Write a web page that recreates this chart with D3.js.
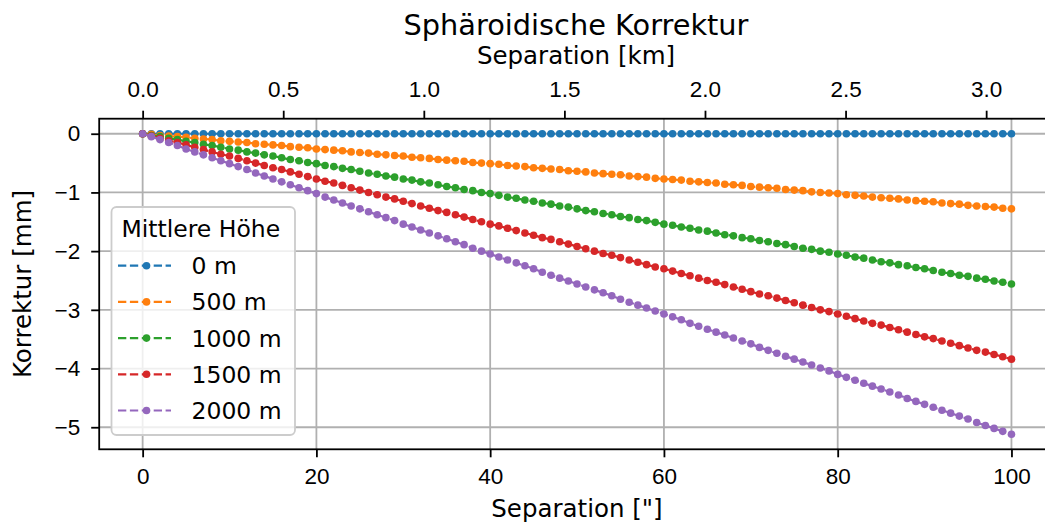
<!DOCTYPE html>
<html lang="de">
<head>
<meta charset="UTF-8">
<title>Sphäroidische Korrektur</title>
<script src="https://d3js.org/d3.v7.min.js"></script>
<style>
    body { margin: 0; background: white; }
    svg { font-family: "DejaVu Sans", sans-serif; display: block; }
    .tick text { font-size: 22.5px; fill: #000; }
</style>
</head>
<body>
<svg id="chart" width="1045" height="524"></svg>
<script>
// separation in arc seconds
const separation = [
    0, 1, 2, 3, 4, 5, 6, 7, 8, 9, 10, 11, 12, 13, 14, 15, 16, 17, 18, 19, 20,
    21, 22, 23, 24, 25, 26, 27, 28, 29, 30, 31, 32, 33, 34, 35, 36, 37, 38, 39, 40,
    41, 42, 43, 44, 45, 46, 47, 48, 49, 50, 51, 52, 53, 54, 55, 56, 57, 58, 59, 60,
    61, 62, 63, 64, 65, 66, 67, 68, 69, 70, 71, 72, 73, 74, 75, 76, 77, 78, 79, 80,
    81, 82, 83, 84, 85, 86, 87, 88, 89, 90, 91, 92, 93, 94, 95, 96, 97, 98, 99, 100
];

// Korrektur in mm for each mean height
const h0 = [
    0, 0, 0, 0, 0, 0, 0, 0, 0, 0, 0, 0, 0, 0, 0, 0, 0, 0, 0, 0, 0,
    0, 0, 0, 0, 0, 0, 0, 0, 0, 0, 0, 0, 0, 0, 0, 0, 0, 0, 0, 0,
    0, 0, 0, 0, 0, 0, 0, 0, 0, 0, 0, 0, 0, 0, 0, 0, 0, 0, 0, 0,
    0, 0, 0, 0, 0, 0, 0, 0, 0, 0, 0, 0, 0, 0, 0, 0, 0, 0, 0, 0,
    0, 0, 0, 0, 0, 0, 0, 0, 0, 0, 0, 0, 0, 0, 0, 0, 0, 0, 0, 0
];
const h500 = [
    0, -0.01, -0.03, -0.04, -0.05, -0.06, -0.08, -0.09, -0.10, -0.12, -0.13,
    -0.14, -0.15, -0.17, -0.18, -0.19, -0.20, -0.22, -0.23, -0.24, -0.26,
    -0.27, -0.28, -0.29, -0.31, -0.32, -0.33, -0.35, -0.36, -0.37, -0.38,
    -0.40, -0.41, -0.42, -0.44, -0.45, -0.46, -0.47, -0.49, -0.50, -0.51,
    -0.52, -0.54, -0.55, -0.56, -0.58, -0.59, -0.60, -0.61, -0.63, -0.64,
    -0.65, -0.67, -0.68, -0.69, -0.70, -0.72, -0.73, -0.74, -0.76, -0.77,
    -0.78, -0.79, -0.81, -0.82, -0.83, -0.84, -0.86, -0.87, -0.88, -0.90,
    -0.91, -0.92, -0.93, -0.95, -0.96, -0.97, -0.99, -1.00, -1.01, -1.02,
    -1.04, -1.05, -1.06, -1.08, -1.09, -1.10, -1.11, -1.13, -1.14, -1.15,
    -1.16, -1.18, -1.19, -1.20, -1.22, -1.23, -1.24, -1.25, -1.27, -1.28
];
const h1000 = [
    0, -0.03, -0.05, -0.08, -0.10, -0.13, -0.15, -0.18, -0.20, -0.23, -0.26,
    -0.28, -0.31, -0.33, -0.36, -0.38, -0.41, -0.44, -0.46, -0.49, -0.51,
    -0.54, -0.56, -0.59, -0.61, -0.64, -0.67, -0.69, -0.72, -0.74, -0.77,
    -0.79, -0.82, -0.84, -0.87, -0.90, -0.92, -0.95, -0.97, -1.00, -1.02,
    -1.05, -1.08, -1.10, -1.13, -1.15, -1.18, -1.20, -1.23, -1.25, -1.28,
    -1.31, -1.33, -1.36, -1.38, -1.41, -1.43, -1.46, -1.48, -1.51, -1.54,
    -1.56, -1.59, -1.61, -1.64, -1.66, -1.69, -1.72, -1.74, -1.77, -1.79,
    -1.82, -1.84, -1.87, -1.89, -1.92, -1.95, -1.97, -2.00, -2.02, -2.05,
    -2.07, -2.10, -2.12, -2.15, -2.18, -2.20, -2.23, -2.25, -2.28, -2.30,
    -2.33, -2.36, -2.38, -2.41, -2.43, -2.46, -2.48, -2.51, -2.53, -2.56
];
const h1500 = [
    0, -0.04, -0.08, -0.12, -0.15, -0.19, -0.23, -0.27, -0.31, -0.35, -0.38,
    -0.42, -0.46, -0.50, -0.54, -0.58, -0.61, -0.65, -0.69, -0.73, -0.77,
    -0.81, -0.84, -0.88, -0.92, -0.96, -1.00, -1.04, -1.08, -1.11, -1.15,
    -1.19, -1.23, -1.27, -1.31, -1.34, -1.38, -1.42, -1.46, -1.50, -1.54,
    -1.57, -1.61, -1.65, -1.69, -1.73, -1.77, -1.80, -1.84, -1.88, -1.92,
    -1.96, -2.00, -2.04, -2.07, -2.11, -2.15, -2.19, -2.23, -2.27, -2.30,
    -2.34, -2.38, -2.42, -2.46, -2.50, -2.53, -2.57, -2.61, -2.65, -2.69,
    -2.73, -2.76, -2.80, -2.84, -2.88, -2.92, -2.96, -3.00, -3.03, -3.07,
    -3.11, -3.15, -3.19, -3.23, -3.26, -3.30, -3.34, -3.38, -3.42, -3.46,
    -3.49, -3.53, -3.57, -3.61, -3.65, -3.69, -3.72, -3.76, -3.80, -3.84
];
const h2000 = [
    0, -0.05, -0.10, -0.15, -0.20, -0.26, -0.31, -0.36, -0.41, -0.46, -0.51,
    -0.56, -0.61, -0.67, -0.72, -0.77, -0.82, -0.87, -0.92, -0.97, -1.02,
    -1.08, -1.13, -1.18, -1.23, -1.28, -1.33, -1.38, -1.43, -1.48, -1.54,
    -1.59, -1.64, -1.69, -1.74, -1.79, -1.84, -1.89, -1.95, -2.00, -2.05,
    -2.10, -2.15, -2.20, -2.25, -2.30, -2.36, -2.41, -2.46, -2.51, -2.56,
    -2.61, -2.66, -2.71, -2.76, -2.82, -2.87, -2.92, -2.97, -3.02, -3.07,
    -3.12, -3.17, -3.23, -3.28, -3.33, -3.38, -3.43, -3.48, -3.53, -3.58,
    -3.64, -3.69, -3.74, -3.79, -3.84, -3.89, -3.94, -3.99, -4.04, -4.10,
    -4.15, -4.20, -4.25, -4.30, -4.35, -4.40, -4.45, -4.51, -4.56, -4.61,
    -4.66, -4.71, -4.76, -4.81, -4.86, -4.92, -4.97, -5.02, -5.07, -5.12
];

const seriesNames = ['0 m', '500 m', '1000 m', '1500 m', '2000 m'];
const seriesValues = [h0, h500, h1000, h1500, h2000];
const colors = ['#1f77b4', '#ff7f0e', '#2ca02c', '#d62728', '#9467bd'];

const xTicks = [0, 20, 40, 60, 80, 100];
const yTicks = [0, -1, -2, -3, -4, -5];
const kmTicks = [0, 0.5, 1.0, 1.5, 2.0, 2.5, 3.0];
const kmPerArcsec = 0.0309;

const svg = d3.select('#chart');
const pLeft = 99.2, pRight = 1054.9, pTop = 118.7, pBottom = 449.3;

const x = d3.scaleLinear().domain([-5, 105]).range([pLeft, pRight]);
const xKm = d3.scaleLinear().domain([-5 * kmPerArcsec, 105 * kmPerArcsec]).range([pLeft, pRight]);
const y = d3.scaleLinear().domain([-5.376, 0.256]).range([pBottom, pTop]);

// grid
svg.append('g').selectAll('line')
    .data(xTicks)
    .enter()
    .append('line')
    .attr('x1', d => x(d)).attr('x2', d => x(d))
    .attr('y1', pTop).attr('y2', pBottom)
    .attr('stroke', '#b0b0b0').attr('stroke-width', 1.8);

svg.append('g').selectAll('line')
    .data(yTicks)
    .enter()
    .append('line')
    .attr('x1', pLeft).attr('x2', pRight)
    .attr('y1', d => y(d)).attr('y2', d => y(d))
    .attr('stroke', '#b0b0b0').attr('stroke-width', 1.8);

// series
const line = d3.line()
    .x((d, i) => x(separation[i]))
    .y(d => y(d));

seriesValues.forEach((vals, k) => {
    const g = svg.append('g');
    g.append('path')
        .datum(vals)
        .attr('d', line)
        .attr('fill', 'none')
        .attr('stroke', colors[k])
        .attr('stroke-width', 2.2)
        .attr('stroke-dasharray', '8.3,3.6');
    g.selectAll('circle')
        .data(vals)
        .enter()
        .append('circle')
        .attr('cx', (d, i) => x(separation[i]))
        .attr('cy', d => y(d))
        .attr('r', 3.8)
        .attr('fill', colors[k]);
});

// axes
const axisStyle = g => {
    g.select('.domain').remove();
    g.selectAll('.tick line').attr('stroke', '#000').attr('stroke-width', 1.8);
};

svg.append('g')
    .attr('transform', `translate(0,${pBottom})`)
    .call(d3.axisBottom(x).tickValues(xTicks).tickSize(8).tickPadding(10.7).tickFormat(d3.format('d')))
    .call(axisStyle);

svg.append('g')
    .attr('transform', `translate(0,${pTop})`)
    .call(d3.axisTop(xKm).tickValues(kmTicks).tickSize(8).tickPadding(13.7).tickFormat(d3.format('.1f')))
    .call(axisStyle);

svg.append('g')
    .attr('transform', `translate(${pLeft},0)`)
    .call(d3.axisLeft(y).tickValues(yTicks).tickSize(8).tickPadding(11).tickFormat(d3.format('d')))
    .call(axisStyle);

// frame
svg.append('rect')
    .attr('x', pLeft).attr('y', pTop)
    .attr('width', pRight - pLeft).attr('height', pBottom - pTop)
    .attr('fill', 'none')
    .attr('stroke', '#000')
    .attr('stroke-width', 1.8);

// labels
svg.append('text')
    .attr('x', 576).attr('y', 35)
    .attr('text-anchor', 'middle')
    .attr('font-size', 28.8)
    .text('Sphäroidische Korrektur');

svg.append('text')
    .attr('x', 576).attr('y', 64)
    .attr('text-anchor', 'middle')
    .attr('font-size', 24.5)
    .text('Separation [km]');

svg.append('text')
    .attr('x', 577).attr('y', 517)
    .attr('text-anchor', 'middle')
    .attr('font-size', 24.5)
    .text('Separation ["]');

svg.append('text')
    .attr('transform', `translate(31,${(pTop + pBottom) / 2}) rotate(-90)`)
    .attr('text-anchor', 'middle')
    .attr('font-size', 24.5)
    .text('Korrektur [mm]');

// legend
const legend = svg.append('g');
legend.append('rect')
    .attr('x', 111.5).attr('y', 207)
    .attr('width', 183.5).attr('height', 228)
    .attr('rx', 5)
    .attr('fill', 'white').attr('fill-opacity', 0.8)
    .attr('stroke', '#cccccc').attr('stroke-width', 1.8);

legend.append('text')
    .attr('x', 121.5).attr('y', 237)
    .attr('font-size', 23.5)
    .text('Mittlere Höhe');

const rowY = [265.7, 301.9, 338.1, 374.3, 410.5];
seriesNames.forEach((name, k) => {
    legend.append('line')
        .attr('x1', 118).attr('x2', 171)
        .attr('y1', rowY[k]).attr('y2', rowY[k])
        .attr('stroke', colors[k])
        .attr('stroke-width', 2.2)
        .attr('stroke-dasharray', '8.3,3.6');
    legend.append('circle')
        .attr('cx', 146.5).attr('cy', rowY[k])
        .attr('r', 3.8)
        .attr('fill', colors[k]);
    legend.append('text')
        .attr('x', 191.5).attr('y', rowY[k] + 8.5)
        .attr('font-size', 23.5)
        .text(name);
});
</script>
</body>
</html>
